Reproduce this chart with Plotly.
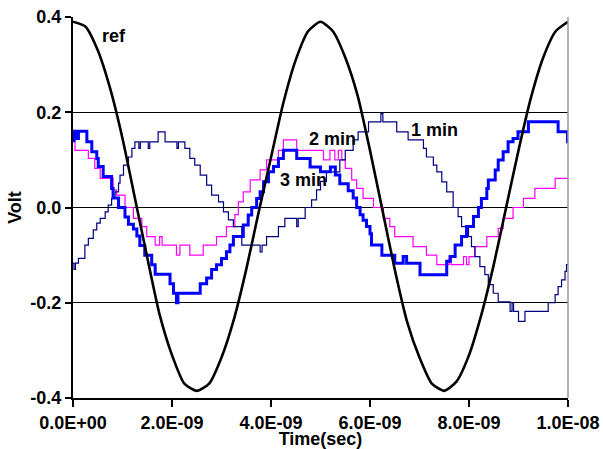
import plotly.graph_objects as go

# time in ns
ref_t = [0, 0.25, 0.5, 0.75, 1.0, 1.25, 1.5, 1.75, 2.0, 2.25, 2.5, 2.75, 3.0, 3.25, 3.5, 3.75,
         4.0, 4.25, 4.5, 4.75, 5.0, 5.25, 5.5, 5.75, 6.0, 6.25, 6.5, 6.75, 7.0, 7.25, 7.5, 7.75,
         8.0, 8.25, 8.5, 8.75, 9.0, 9.25, 9.5, 9.75, 10.0]
ref_v = [0.39, 0.38, 0.33, 0.25, 0.145, 0.02, -0.105, -0.225, -0.31, -0.37, -0.385, -0.37, -0.315,
         -0.235, -0.13, -0.01, 0.105, 0.22, 0.31, 0.37, 0.39, 0.37, 0.315, 0.235, 0.12, -0.005,
         -0.13, -0.24, -0.315, -0.37, -0.385, -0.365, -0.31, -0.225, -0.12, 0.0, 0.12, 0.23,
         0.315, 0.37, 0.39]

m1_t = [0, 0.02, 0.05, 0.11, 0.24, 0.31, 0.41, 0.48, 0.55, 0.65, 0.71, 0.78, 0.85, 0.92, 0.95,
        1.02, 1.12, 1.19, 1.25, 1.33, 1.36, 1.52, 1.55, 1.72, 1.86, 2.1, 2.13, 2.26, 2.36, 2.46,
        2.57, 2.7, 2.8, 2.94, 3.04, 3.14, 3.24, 3.41, 3.78, 3.82, 3.91, 4.15, 4.28, 4.52, 4.55,
        4.69, 4.82, 4.92, 5.0, 5.12, 5.39, 5.5, 5.66, 5.76, 5.97, 6.22, 6.26, 6.54, 6.77, 7.08,
        7.14, 7.28, 7.35, 7.45, 7.55, 7.68, 7.78, 7.85, 7.99, 8.05, 8.12, 8.22, 8.32, 8.39, 8.49,
        8.59, 8.83, 8.87, 8.9, 9.0, 9.13, 9.6, 9.74, 9.8, 9.87, 9.94, 9.97, 10.0]
m1_v = [-0.117, -0.13, -0.117, -0.107, -0.079, -0.065, -0.047, -0.033, -0.023, -0.009, 0.005,
        0.019, 0.033, 0.051, 0.068, 0.089, 0.106, 0.124, 0.138, 0.124, 0.138, 0.124, 0.138,
        0.159, 0.138, 0.124, 0.138, 0.124, 0.103, 0.089, 0.068, 0.047, 0.026, 0.012, -0.009,
        -0.026, -0.04, -0.079, -0.093, -0.079, -0.061, -0.04, -0.023, -0.04, -0.023, 0.0, 0.016,
        0.037, 0.055, 0.075, 0.1, 0.12, 0.142, 0.159, 0.18, 0.197, 0.18, 0.159, 0.142, 0.124,
        0.106, 0.089, 0.075, 0.054, 0.033, 0.0, -0.019, -0.04, -0.061, -0.082, -0.103, -0.124,
        -0.141, -0.162, -0.18, -0.198, -0.218, -0.2, -0.218, -0.239, -0.218, -0.2, -0.183,
        -0.166, -0.152, -0.134, -0.12, -0.12]

m2_t = [0, 0.04, 0.31, 0.44, 0.55, 0.81, 0.88, 1.05, 1.22, 1.39, 1.49, 1.66, 1.75, 1.8, 2.09,
        2.16, 2.36, 2.63, 2.9, 3.1, 3.27, 3.34, 3.44, 3.58, 3.78, 3.91, 4.15, 4.25, 4.52, 5.06,
        5.19, 5.29, 5.36, 5.43, 5.5, 5.63, 5.73, 5.86, 6.07, 6.27, 6.4, 6.5, 6.87, 7.14, 7.35,
        7.6, 7.64, 7.89, 7.95, 8.0, 8.12, 8.36, 8.59, 8.69, 8.89, 9.1, 9.33, 9.74, 10.0]
m2_v = [0.14, 0.12, 0.103, 0.082, 0.061, 0.037, 0.026, 0.0, -0.023, -0.04, -0.061, -0.079,
        -0.061, -0.079, -0.1, -0.079, -0.1, -0.079, -0.061, -0.04, -0.015, 0.012, 0.033, 0.058,
        0.079, 0.1, 0.12, 0.142, 0.12, 0.1, 0.12, 0.1, 0.12, 0.1, 0.082, 0.058, 0.04, 0.019, 0.0,
        -0.023, -0.04, -0.061, -0.082, -0.1, -0.12, -0.103, -0.12, -0.103, -0.12, -0.103,
        -0.082, -0.061, -0.044, -0.023, 0.0, 0.019, 0.04, 0.061, 0.061]

m3_t = [0, 0.02, 0.06, 0.11, 0.28, 0.38, 0.48, 0.51, 0.61, 0.78, 0.81, 0.92, 1.05, 1.12, 1.22,
        1.29, 1.35, 1.45, 1.59, 1.66, 1.96, 2.03, 2.09, 2.12, 2.57, 2.7, 2.8, 2.9, 3.0, 3.1, 3.17,
        3.24, 3.44, 3.54, 3.61, 3.71, 3.78, 3.85, 3.95, 4.05, 4.15, 4.25, 4.52, 4.79, 5.0, 5.2,
        5.3, 5.39, 5.56, 5.66, 5.73, 5.8, 5.86, 5.93, 6.0, 6.03, 6.24, 6.5, 6.67, 6.74, 7.01,
        7.55, 7.62, 7.72, 7.85, 7.95, 8.09, 8.19, 8.25, 8.36, 8.39, 8.53, 8.59, 8.69, 8.79, 8.89,
        8.99, 9.1, 9.2, 9.8, 9.99, 10.0]
m3_v = [0.14, 0.16, 0.145, 0.16, 0.138, 0.117, 0.103, 0.086, 0.065, 0.04, 0.02, 0.0, -0.02,
        -0.035, -0.045, -0.06, -0.08, -0.1, -0.12, -0.14, -0.16, -0.18, -0.2, -0.18, -0.16,
        -0.148, -0.13, -0.12, -0.107, -0.093, -0.079, -0.061, -0.037, -0.016, 0.0, 0.019, 0.033,
        0.054, 0.075, 0.086, 0.103, 0.12, 0.103, 0.085, 0.075, 0.085, 0.068, 0.05, 0.035, 0.02,
        0.0, -0.015, -0.027, -0.04, -0.055, -0.079, -0.1, -0.117, -0.103, -0.117, -0.141,
        -0.113, -0.103, -0.079, -0.061, -0.04, -0.019, 0.0, 0.019, 0.04, 0.058, 0.079, 0.1, 0.117,
        0.138, 0.145, 0.159, 0.159, 0.18, 0.159, 0.138, 0.138]

x_ticks = [0, 2, 4, 6, 8, 10]
x_tick_text = ["0.0E+00", "2.0E-09", "4.0E-09", "6.0E-09", "8.0E-09", "1.0E-08"]
y_ticks = [-0.4, -0.2, 0.0, 0.2, 0.4]
y_tick_text = ["-0.4", "-0.2", "0.0", "0.2", "0.4"]

labels = ["ref", "2 min", "1 min", "3 min"]
label_t = [0.83, 5.25, 7.31, 4.66]
label_v = [0.36, 0.143, 0.162, 0.057]

FONT = "Liberation Sans, Arial, sans-serif"
FS = 18

fig = go.Figure()
fig.add_trace(go.Scatter(x=m2_t, y=m2_v, mode="lines", line=dict(color="#FF00FF", width=1.2, shape="hv"), name="2 min"))
fig.add_trace(go.Scatter(x=m1_t, y=m1_v, mode="lines", line=dict(color="#000080", width=1.2, shape="hv"), name="1 min"))
fig.add_trace(go.Scatter(x=m3_t, y=m3_v, mode="lines", line=dict(color="#0000FF", width=3, shape="hv"), name="3 min"))
fig.add_trace(go.Scatter(x=ref_t, y=ref_v, mode="lines", line=dict(color="#000000", width=2.6, shape="spline", smoothing=0.6), name="ref"))

for txt, tx, vy in zip(labels, label_t, label_v):
    fig.add_annotation(x=tx, y=vy, text="<b>%s</b>" % txt, showarrow=False,
                       font=dict(family=FONT, size=FS, color="#000000"))

fig.add_shape(type="line", xref="paper", yref="paper", x0=1, x1=1, y0=0, y1=1,
              line=dict(color="#999999", width=1.5))

fig.update_layout(
    width=603, height=449,
    margin=dict(l=73, r=35, t=17, b=51),
    paper_bgcolor="white", plot_bgcolor="white",
    showlegend=False,
    font=dict(family=FONT, size=FS, color="#000000"),
    xaxis=dict(range=[0, 10], tickvals=x_ticks, ticktext=["<b>%s</b>" % s for s in x_tick_text],
               showgrid=False, zeroline=False, showline=True, linecolor="#000000", linewidth=2,
               ticks="outside", ticklen=7, tickwidth=1.5, tickcolor="#000000", automargin=False,
               title=dict(text="<b>Time(sec)</b>", standoff=3, font=dict(size=FS))),
    yaxis=dict(range=[-0.4, 0.4], tickvals=y_ticks, ticktext=["<b>%s</b>" % s for s in y_tick_text],
               showgrid=True, gridcolor="#000000", gridwidth=1, zeroline=True, zerolinecolor="#000000",
               zerolinewidth=1, showline=True, linecolor="#000000", linewidth=2,
               ticks="outside", ticklen=6, tickwidth=1.5, tickcolor="#000000", automargin=False,
               title=dict(text="<b>Volt</b>", standoff=4, font=dict(size=FS))),
)

fig.write_html("out.html")
